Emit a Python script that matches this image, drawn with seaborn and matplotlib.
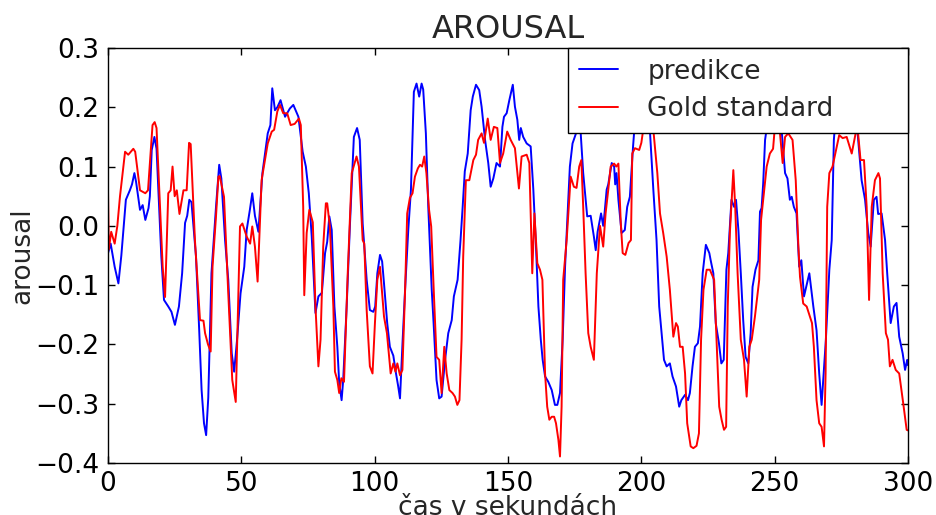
#!/usr/bin/env python3
import numpy as np
import matplotlib
matplotlib.use("Agg")
import matplotlib.pyplot as plt
import seaborn as sns

# predikce (blue), values
t_pred = [0, 1, 2.5, 3.9, 5, 6.7, 8.2, 9, 9.9, 10.5, 12, 13, 14, 15.2, 15.7, 16.4, 17.4, 18.2, 18.9, 20,
          21, 22.6, 23.8, 25.1, 26.6, 27.8, 28.9, 29.7, 30.5, 31.3, 33, 34.2, 35.1, 36, 36.8, 37.6, 38.8, 40.5, 41.7, 42.5,
          43.9, 45.1, 46.4, 47.3, 48.4, 49.7, 51.1, 52, 53.2, 54.1, 55.1, 56.4, 57.3, 57.9, 58.9, 59.9, 60.9, 61.6, 62.6, 63.5,
          64.7, 66.4, 68.2, 69.5, 71.4, 73, 74.2, 75.3, 76.4, 77.8, 78.9, 80.2, 81.4, 82.2, 83, 83.9, 84.9, 86, 86.7, 87.6,
          88.2, 89.5, 90.7, 92.2, 93.4, 94.4, 95.5, 97, 98.2, 99.5, 100.2, 101, 102, 102.8, 103.5, 104.7, 105.7, 107, 108, 108.8,
          109.5, 110.5, 111.4, 112.6, 113.6, 114.7, 115.7, 116.7, 117.6, 118.2, 119.2, 120.1, 121.4, 122.1, 123.2, 124.2, 125.1, 126.4, 127.6, 128.9,
          129.7, 131.1, 132.2, 133, 133.8, 134.9, 136, 136.8, 138, 139.2, 140.1, 141.4, 142.6, 143.5, 144.5, 145.7, 147, 147.9, 148.5, 149.5,
          150.5, 151.8, 152.6, 153.5, 154.2, 154.8, 155.7, 157, 158.5, 159.5, 160.5, 161.4, 162.3, 163, 163.9, 165.1, 166.4, 167.6, 168.5, 169.5,
          170.5, 171.4, 172.4, 173.2, 174.2, 175.5, 177, 178.2, 179.7, 181, 182.2, 182.9, 183.6, 184.9, 185.7, 186.2, 187, 187.6, 188.9, 189.8,
          190.2, 190.7, 191.4, 192.6, 193.8, 194.7, 195.7, 196.9, 197.5, 199, 201, 202.5, 203.2, 204.5, 205.7, 206.7, 207.6, 208.5, 209.5, 210.7,
          211.7, 213, 214.2, 215, 216.4, 217.5, 218.2, 219.2, 220.1, 221.2, 222, 223, 224.2, 225.5, 226, 227, 227.9, 229.1, 230, 230.9,
          231.9, 232.6, 233.8, 234.8, 235.5, 236.4, 237.3, 238.2, 239.1, 240.1, 241, 241.7, 242.8, 243.9, 244.5, 245.1, 245.7, 246.4, 247.2, 249,
          251, 252.6, 253.9, 254.8, 255.7, 256.4, 257.2, 258.2, 259.2, 260, 261, 263, 264.5, 265.7, 266.7, 267.6, 268.2, 269.2, 270.5, 271.4,
          272.2, 272.8, 275, 278, 281, 282.6, 283.9, 285.1, 286, 287.2, 288.2, 288.8, 290.1, 291.4, 292.2, 293.5, 294.7, 295.7, 296.7, 298,
          298.9, 299.7, 300]
v_pred = [-0.046, -0.03, -0.069, -0.097, -0.05, 0.044, 0.06, 0.07, 0.089, 0.075, 0.027, 0.035, 0.01, 0.03, 0.05, 0.128, 0.15, 0.13, 0.06, -0.052,
          -0.125, -0.136, -0.145, -0.167, -0.136, -0.08, 0.005, 0.017, 0.044, 0.04, -0.052, -0.176, -0.277, -0.333, -0.353, -0.29, -0.08, 0.032, 0.103, 0.08,
          -0.024, -0.091, -0.215, -0.246, -0.192, -0.114, -0.069, -0.007, 0.027, 0.055, 0.017, -0.01, 0.05, 0.089, 0.122, 0.156, 0.17, 0.232, 0.195, 0.2,
          0.212, 0.184, 0.198, 0.204, 0.184, 0.125, 0.1, 0.055, -0.018, -0.147, -0.119, -0.113, -0.046, -0.027, 0.016, -0.007, -0.136, -0.204, -0.265, -0.294,
          -0.26, -0.136, -0.001, 0.15, 0.165, 0.145, 0.004, -0.091, -0.142, -0.145, -0.136, -0.08, -0.049, -0.06, -0.097, -0.164, -0.204, -0.219, -0.249, -0.27,
          -0.291, -0.192, -0.108, -0.007, 0.061, 0.226, 0.24, 0.218, 0.24, 0.23, 0.156, 0.032, -0.108, -0.164, -0.26, -0.291, -0.288, -0.226, -0.181, -0.159,
          -0.119, -0.091, -0.024, 0.032, 0.092, 0.122, 0.195, 0.218, 0.238, 0.229, 0.201, 0.145, 0.106, 0.066, 0.08, 0.106, 0.1, 0.167, 0.184, 0.19,
          0.212, 0.238, 0.201, 0.179, 0.145, 0.165, 0.15, 0.139, 0.134, 0.061, -0.035, -0.136, -0.192, -0.226, -0.254, -0.263, -0.277, -0.302, -0.302, -0.282,
          -0.192, -0.069, 0.027, 0.1, 0.139, 0.156, 0.175, 0.089, 0.016, 0.017, -0.018, -0.041, -0.01, 0.021, 0.0, 0.021, 0.061, 0.07, 0.106, 0.1,
          0.07, 0.089, 0.044, -0.012, -0.007, 0.032, 0.049, 0.134, 0.17, 0.21, 0.22, 0.19, 0.162, 0.061, -0.024, -0.136, -0.181, -0.226, -0.237, -0.232,
          -0.254, -0.271, -0.305, -0.294, -0.285, -0.294, -0.282, -0.237, -0.204, -0.198, -0.17, -0.08, -0.032, -0.046, -0.058, -0.08, -0.164, -0.198, -0.232, -0.226,
          -0.074, -0.046, 0.044, 0.032, 0.044, -0.007, -0.08, -0.159, -0.221, -0.232, -0.181, -0.103, -0.074, -0.058, 0.024, 0.03, 0.072, 0.145, 0.17, 0.2,
          0.2, 0.162, 0.089, 0.08, 0.044, 0.049, 0.032, 0.021, -0.069, -0.058, -0.119, -0.08, -0.136, -0.176, -0.249, -0.302, -0.26, -0.192, -0.074, -0.024,
          0.145, 0.18, 0.21, 0.2, 0.162, 0.077, 0.044, -0.012, -0.035, 0.044, 0.049, 0.02, 0.021, -0.024, -0.08, -0.164, -0.136, -0.13, -0.187, -0.215,
          -0.243, -0.226, -0.235]

# Gold standard (red)
t_gold = [0, 0.3, 1.2, 2.5, 3.5, 4.5, 6.4, 7.6, 9.5, 10.2, 12, 14, 15, 16.7, 17.5, 18.2, 19.5, 20.5, 21.4, 22.6,
          23.5, 24.2, 25, 25.8, 26.8, 28.3, 29.5, 30.4, 31, 32.6, 34.5, 35.8, 36.4, 37.5, 38.5, 39.2, 40.5, 41.4, 41.9, 43.5,
          45.1, 46.6, 47.9, 49.5, 50.4, 52, 53.3, 54.1, 55.1, 56.1, 57.6, 59.9, 61.4, 62.3, 63.5, 64.5, 65.7, 67.2, 68.5, 70,
          71.6, 72.3, 73.2, 73.6, 74.5, 75.5, 76.8, 77.8, 78.9, 79.7, 80.7, 81.7, 82.2, 83.2, 84.5, 85.1, 86, 86.7, 87.5, 88.5,
          89.9, 91.4, 92.3, 93.2, 94.1, 95.5, 96.1, 97, 98.2, 99.2, 100.1, 101, 102, 103.5, 104.6, 106, 107, 107.8, 108.5, 109.5,
          110.4, 111.4, 112.2, 113.2, 114.2, 115.1, 116.2, 117, 117.8, 118.6, 119.4, 120.4, 121.2, 122.3, 123.2, 124.2, 125.1, 126.1, 127, 128,
          129.2, 130.1, 131, 131.8, 132.6, 133.2, 134.2, 135.5, 137, 138, 138.8, 140.1, 141, 142.4, 143.5, 144.7, 146, 147, 148.2, 149.7,
          151, 152.6, 154.1, 155.1, 157, 158, 159.1, 159.9, 161, 162, 162.9, 163.9, 164.7, 165.5, 166.4, 167.3, 168, 168.9, 169.5, 170.1,
          170.7, 172, 173.5, 174.7, 175.7, 176.7, 177.5, 178.2, 179.1, 180.1, 181, 182.2, 183.3, 184.5, 185.7, 186.6, 187.6, 188.5, 189.8, 190.6,
          191.4, 192.3, 193, 194, 195.2, 196.1, 196.6, 197.6, 199.2, 200, 200.7, 202, 203.5, 204.5, 206, 207, 208.2, 209.5, 210.7, 212,
          213, 213.7, 214.5, 215.5, 216.4, 217.2, 218.5, 219.5, 220.7, 221.6, 222.4, 223.3, 224.5, 225.7, 227.3, 228.2, 229.2, 230.1, 231, 231.8,
          232.4, 233.2, 234.5, 235.2, 236.1, 237.3, 238.5, 239.5, 240.5, 241.4, 242.6, 244.2, 244.9, 245.7, 247, 248.2, 249.4, 250.5, 252, 253,
          253.9, 255.1, 256.7, 257.9, 258.9, 259.5, 260.7, 262, 263.2, 264, 264.7, 265.7, 266.7, 267.6, 268.5, 269.1, 269.7, 270.5, 271.7, 273,
          274.2, 275.5, 277, 278.9, 280.1, 281, 282.2, 283.5, 284.5, 285.4, 286.4, 287.6, 288.9, 289.5, 290.5, 291.7, 292.5, 293.2, 294.2, 295.4,
          296.7, 298.2, 299.5, 300]
v_gold = [0.06, -0.04, -0.01, -0.03, 0.0, 0.05, 0.125, 0.12, 0.13, 0.125, 0.06, 0.055, 0.06, 0.17, 0.175, 0.165, 0.032, -0.069, -0.12, 0.055,
          0.06, 0.1, 0.05, 0.06, 0.02, 0.06, 0.06, 0.14, 0.138, -0.024, -0.159, -0.16, -0.181, -0.2, -0.212, -0.069, 0.016, 0.083, 0.084, 0.049,
          -0.114, -0.26, -0.297, -0.001, 0.004, -0.018, -0.03, -0.001, -0.035, -0.094, 0.077, 0.139, 0.159, 0.162, 0.193, 0.204, 0.19, 0.19, 0.17, 0.172,
          0.181, 0.17, 0.032, -0.117, -0.012, 0.027, 0.006, -0.136, -0.237, -0.192, -0.035, 0.038, 0.038, -0.001, -0.136, -0.246, -0.26, -0.282, -0.257, -0.263,
          -0.08, 0.089, 0.103, 0.117, 0.1, -0.024, -0.03, -0.142, -0.237, -0.249, -0.164, -0.091, -0.069, -0.153, -0.181, -0.249, -0.232, -0.246, -0.232, -0.252,
          -0.243, -0.11, 0.021, 0.047, 0.055, 0.083, 0.097, 0.103, 0.1, 0.117, 0.089, 0.027, -0.001, -0.125, -0.221, -0.226, -0.282, -0.204, -0.249, -0.277,
          -0.282, -0.288, -0.302, -0.294, -0.192, -0.052, 0.077, 0.077, 0.111, 0.12, 0.145, 0.156, 0.14, 0.181, 0.145, 0.167, 0.165, 0.106, 0.122, 0.159,
          0.145, 0.131, 0.063, 0.117, 0.12, 0.106, -0.08, 0.021, -0.063, -0.074, -0.091, -0.249, -0.305, -0.327, -0.322, -0.322, -0.333, -0.361, -0.389, -0.305,
          -0.091, -0.024, 0.083, 0.066, 0.064, 0.1, 0.111, 0.032, -0.08, -0.181, -0.204, -0.226, -0.08, 0.0, -0.035, 0.021, 0.061, 0.1, 0.105, 0.1,
          0.105, 0.004, -0.046, -0.049, -0.029, -0.024, 0.122, 0.131, 0.128, 0.14, 0.162, 0.2, 0.19, 0.162, 0.089, 0.021, -0.012, -0.052, -0.108, -0.187,
          -0.164, -0.17, -0.204, -0.204, -0.249, -0.333, -0.372, -0.375, -0.371, -0.35, -0.192, -0.108, -0.074, -0.074, -0.091, -0.192, -0.305, -0.327, -0.344, -0.339,
          -0.136, -0.012, 0.094, 0.032, -0.08, -0.192, -0.226, -0.288, -0.204, -0.192, -0.153, -0.091, 0.01, 0.044, 0.1, 0.122, 0.13, 0.19, 0.156, 0.106,
          0.15, 0.156, 0.145, 0.077, -0.035, -0.086, -0.131, -0.136, -0.153, -0.164, -0.204, -0.294, -0.333, -0.339, -0.372, -0.249, 0.032, 0.089, 0.1, 0.128,
          0.153, 0.148, 0.15, 0.122, 0.15, 0.17, 0.111, 0.111, 0.032, -0.125, 0.032, 0.077, 0.089, 0.08, -0.08, -0.181, -0.192, -0.237, -0.226, -0.243,
          -0.249, -0.299, -0.344, -0.345]

x_ticks = [0, 50, 100, 150, 200, 250, 300]
y_ticks = [-0.4, -0.3, -0.2, -0.1, 0.0, 0.1, 0.2, 0.3]

sns.set_style("white")
plt.rcParams["font.family"] = ["DejaVu Sans"]

fig = plt.figure(figsize=(9.37, 5.15), dpi=100)
ax = fig.add_axes([108 / 937, 1 - 463 / 515, 800 / 937, 415 / 515])

sns.lineplot(x=t_pred, y=v_pred, ax=ax, color="#0000ff", linewidth=1.4, label="predikce", estimator=None)
sns.lineplot(x=t_gold, y=v_gold, ax=ax, color="#ff0000", linewidth=1.4, label="Gold standard", estimator=None)

ax.set_xlim(0, 300)
ax.set_ylim(-0.4, 0.3)
ax.set_xticks(x_ticks)
ax.set_yticks(y_ticks)
ax.set_yticklabels([f"{y:.1f}".replace("-", "\u2212") for y in y_ticks])
ax.tick_params(direction="in", length=5, width=1, labelsize=19, top=True, right=True,
               bottom=True, left=True, colors="black", pad=6)
for sp in ax.spines.values():
    sp.set_color("black")
    sp.set_linewidth(1.0)

ax.set_title("AROUSAL", fontsize=23, pad=7)
ax.set_xlabel("čas v sekundách", fontsize=19, labelpad=-2)
ax.set_ylabel("arousal", fontsize=19, labelpad=0)

leg = ax.legend(loc="upper right", bbox_to_anchor=(0.575, 0, 0.425, 1), mode="expand",
                borderaxespad=0, fancybox=False, framealpha=1, edgecolor="black",
                fontsize=19, handlelength=1.5, handletextpad=1.1, borderpad=0.4, labelspacing=0.45)
leg.get_frame().set_linewidth(1.0)
for line in leg.get_lines():
    line.set_linewidth(1.4)

fig.savefig("out.png", dpi=100)
